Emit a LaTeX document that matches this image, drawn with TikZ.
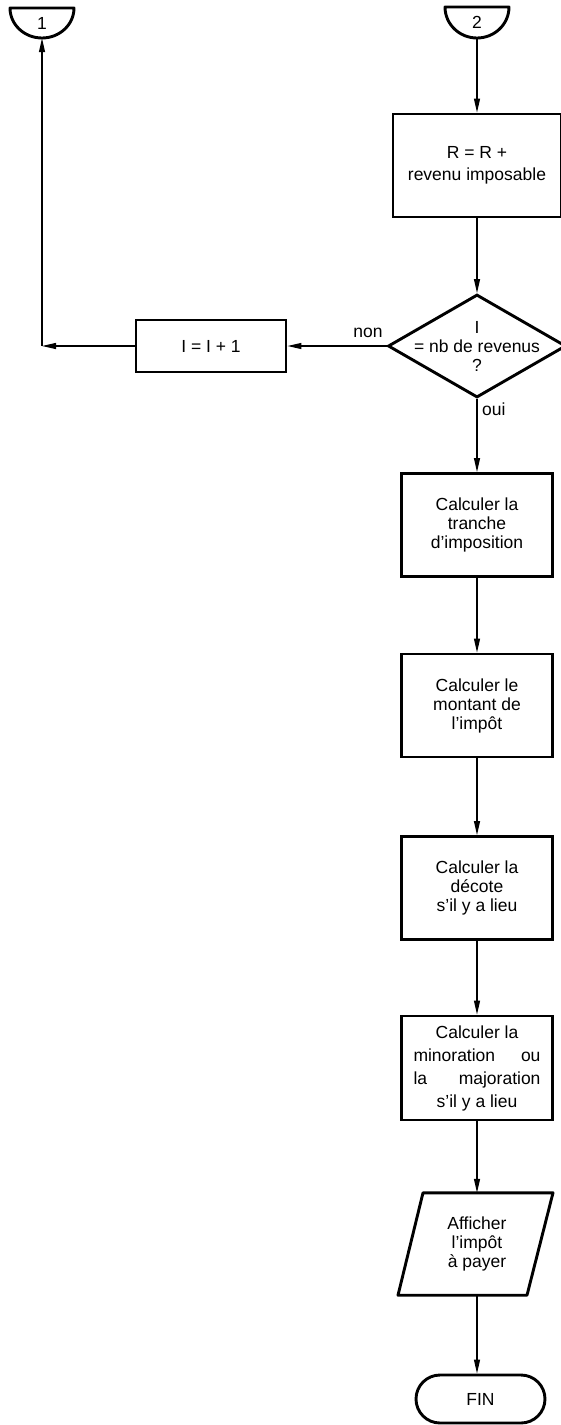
\documentclass[tikz,border=0pt]{standalone}
\usepackage{fontspec}
\setmainfont{Liberation Sans}
\usetikzlibrary{arrows.meta,shapes.geometric}
\begin{document}
\begin{tikzpicture}[x=1pt,y=-1pt,
  every node/.style={font=\fontsize{17.5}{19}\selectfont, inner sep=0pt, align=center},
  procbox/.style={draw, line width=2.9pt, minimum width=151pt, minimum height=103pt},
  outline/.style={line width=2.9pt, line join=round},
  flow/.style={line width=1.2pt, -{Triangle[length=14pt,width=6pt]}}]
\useasboundingbox (0,0) rectangle (560,1425);

% off-page connectors (half discs opening upwards)
\draw[outline] (10,8) -- (74,8) .. controls (74,24.57) and (59.67,38) .. (42,38)
  .. controls (24.33,38) and (10,24.57) .. (10,8) -- cycle;
\node[minimum width=64pt, minimum height=30pt] (c1) at (42,23) {1};
\draw[outline] (445,7) -- (509,7) .. controls (509,24.12) and (494.67,38) .. (477,38)
  .. controls (459.33,38) and (445,24.12) .. (445,7) -- cycle;
\node[minimum width=64pt, minimum height=31pt] (c2) at (477,22.5) {2};

% process steps
\node[procbox, minimum width=168pt, font=\fontsize{17.5}{22}\selectfont] (r) at (477,165.5) {R = R +\\revenu imposable};
\node[draw, shape=diamond, line width=2.9pt, minimum width=178pt, minimum height=103pt] (q) at (477,346) {};
\node (qt) at (477,346) {I\\= nb de revenus\\?};
\node[procbox, minimum width=150pt, minimum height=52pt] (inc) at (211,346) {I = I + 1};
\node[procbox] (t) at (477,525) {Calculer la\\tranche\\d’imposition};
\node[procbox] (m) at (477,705.5) {Calculer le\\montant de\\l’impôt};
\node[procbox] (d) at (477,888) {Calculer la\\décote\\s’il y a lieu};
\node[procbox, minimum height=104pt, font=\fontsize{17.5}{23}\selectfont] (mj) at (477,1068)
  {Calculer la\\\makebox[127pt][s]{minoration ou}\\\makebox[127pt][s]{la majoration}\\s’il y a lieu};

% output step (parallelogram)
\node[minimum width=130pt, minimum height=102pt] (disp) at (477,1244) {Afficher\\l’impôt\\à payer};
\draw[outline] ([xshift=-54pt]disp.north) -- ([xshift=76pt]disp.north)
  -- ([xshift=50pt]disp.south) -- ([xshift=-79pt]disp.south) -- cycle;

% terminal
\node[draw, line width=2.9pt, rounded corners=24pt, minimum width=129pt, minimum height=48pt] (fin) at (480.5,1399) {FIN};

% branch labels
\node (non) at (368,333) {non};
\node[anchor=west] (oui) at (482,409) {oui};

% flow lines
\coordinate (corner) at (42,346);
\draw[flow] (c2) -- (r);
\draw[flow] (r) -- (q);
\draw[flow] (q) -- (inc);
\draw[flow] (inc) -- (corner);
\draw[flow] (corner) -- (c1);
\draw[flow] (q) -- (t);
\draw[flow] (t) -- (m);
\draw[flow] (m) -- (d);
\draw[flow] (d) -- (mj);
\draw[flow] (mj) -- (disp);
\draw[flow] (disp.south) -- (disp.south |- fin.north);
\end{tikzpicture}
\end{document}
